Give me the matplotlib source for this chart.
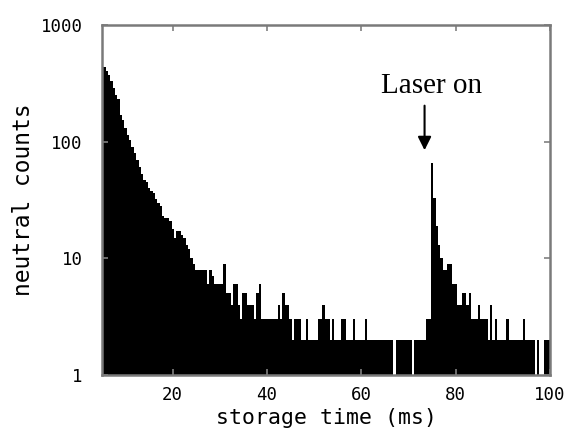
import numpy as np
import matplotlib
matplotlib.use("Agg")
from matplotlib import pyplot as plt

# storage-time histogram, 0.5 ms bins centred on 5.0 ... 100.0 ms
bin_width = 0.5
first_centre = 5.0

counts = [
    520, 440, 400, 370, 330, 290, 250, 230, 170, 153,   # 5.0 - 9.5
    130, 115, 103, 90, 80, 70, 61, 53, 47, 45,          # 10.0 - 14.5
    40, 38, 36, 32, 30, 28, 23, 22, 22, 21,             # 15.0 - 19.5
    18, 15, 17, 17, 16, 15, 13, 12, 10, 9,              # 20.0 - 24.5
    8, 8, 8, 8, 8, 6, 8, 7, 6, 6,                       # 25.0 - 29.5
    6, 6, 9, 5, 5, 4, 6, 6, 4, 3,                       # 30.0 - 34.5
    5, 5, 4, 4, 4, 3, 5, 6, 3, 3,                       # 35.0 - 39.5
    3, 3, 3, 3, 3, 4, 3, 5, 4, 4,                       # 40.0 - 44.5
    3, 2, 3, 3, 3, 2, 2, 3, 2, 2,                       # 45.0 - 49.5
    2, 2, 3, 3, 4, 3, 3, 2, 3, 2,                       # 50.0 - 54.5
    2, 2, 3, 3, 2, 2, 2, 3, 2, 2,                       # 55.0 - 59.5
    2, 2, 3, 2, 2, 2, 2, 2, 2, 2,                       # 60.0 - 64.5
    2, 2, 2, 2, 1, 2, 2, 2, 2, 2,                       # 65.0 - 69.5
    2, 2, 1, 2, 2, 2, 2, 2, 3, 3,                       # 70.0 - 74.5
    65, 33, 19, 13, 10, 8, 8, 9, 9, 6,                  # 75.0 - 79.5
    6, 4, 4, 5, 5, 4, 5, 3, 3, 3,                       # 80.0 - 84.5
    4, 3, 3, 3, 2, 4, 2, 3, 2, 2,                       # 85.0 - 89.5
    2, 2, 3, 2, 2, 2, 2, 2, 2, 3,                       # 90.0 - 94.5
    2, 2, 2, 2, 1, 2, 1, 1, 2, 2,                       # 95.0 - 99.5
    2,                                                  # 100.0
]

x_ticks = [20, 40, 60, 80, 100]
y_ticks = [1, 10, 100, 1000]
y_tick_labels = ["1", "10", "100", "1000"]

# where the laser was switched on (arrow + label)
laser_time = 73.4
laser_label = "Laser on"


def main():
    fig = plt.figure(figsize=(5.68, 4.33), dpi=100)
    ax = fig.add_axes([102 / 568, 1 - 375 / 433, 448 / 568, 350 / 433])

    edges = first_centre - bin_width / 2 + bin_width * np.arange(len(counts) + 1)
    ax.stairs(counts, edges, fill=True, baseline=1, color="black", linewidth=0)

    ax.set_yscale("log")
    ax.set_xlim(5, 100)
    ax.set_ylim(1, 1000)

    mono = "DejaVu Sans Mono"
    ax.set_xticks(x_ticks)
    ax.set_xticklabels([str(t) for t in x_ticks], family=mono, fontsize=12.5)
    ax.set_yticks(y_ticks)
    ax.set_yticklabels(y_tick_labels, family=mono, fontsize=12.5)
    ax.minorticks_off()
    ax.tick_params(direction="in", length=4, width=1.2, color="#808080",
                   top=True, right=True)
    ax.tick_params(axis="x", pad=8)
    ax.tick_params(axis="y", pad=14)

    for s in ax.spines.values():
        s.set_color("#7a7a7a")
        s.set_linewidth(1.8)

    ax.set_xlabel("storage time (ms)", family=mono, fontsize=15.5, labelpad=3)
    ax.set_ylabel("neutral counts", family=mono, fontsize=16.5, labelpad=4)

    # Laser marker:
    ax.annotate("", xy=(laser_time, 80), xytext=(laser_time, 215),
                arrowprops=dict(arrowstyle="-|>", color="black", lw=1.5,
                                mutation_scale=20))
    ax.text(74.9, 300, laser_label, ha="center", va="center",
            family="Liberation Serif", fontsize=21)

    fig.savefig("out.png", dpi=100)


if __name__ == "__main__":
    main()
